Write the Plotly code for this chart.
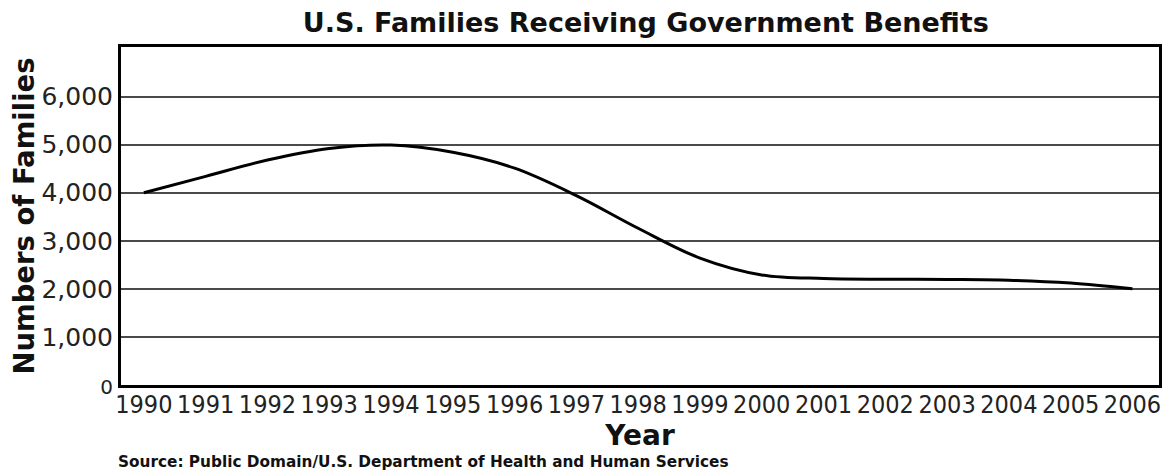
import plotly.graph_objects as go

years = [1990, 1991, 1992, 1993, 1994, 1995, 1996, 1997, 1998, 1999, 2000, 2001, 2002, 2003, 2004, 2005, 2006]
families = [4000, 4340, 4680, 4920, 4990, 4840, 4510, 3940, 3260, 2640, 2290, 2215, 2200, 2195, 2180, 2120, 2000]

y_ticks = [0, 1000, 2000, 3000, 4000, 5000, 6000]
y_labels = ['<span style="font-size:20px">0</span>', "1,000", "2,000", "3,000", "4,000", "5,000", "6,000"]
x_labels = [str(y) for y in years]

title_text = "U.S. Families Receiving Government Benefits"
source_text = "Source: Public Domain/U.S. Department of Health and Human Services"

fig = go.Figure()
fig.add_trace(go.Scatter(
    x=years, y=families, mode="lines",
    line=dict(color="black", width=3, shape="spline", smoothing=1.0),
    showlegend=False, hoverinfo="skip",
))

# page body has an 8px margin, so the figure is sized to fill the rest of the window
fig.update_layout(
    width=1166, height=462,
    margin=dict(l=109, r=14, t=39, b=85),
    paper_bgcolor="white", plot_bgcolor="white",
    title=dict(text="<b>" + title_text + "</b>", x=0.547, xanchor="center", y=0.968, yanchor="middle",
               font=dict(family="DejaVu Sans", size=27, color="#111")),
    font=dict(family="DejaVu Sans", color="#222"),
    xaxis=dict(
        range=[1989.63, 2006.43], tickvals=years, ticktext=x_labels,
        tickfont=dict(family="DejaVu Sans Condensed", size=25, color="#222"),
        ticklabelstandoff=-5,
        showgrid=False, zeroline=False, ticks="", ticklen=0,
        showline=True, linecolor="black", linewidth=3, mirror=True,
        title=dict(text="<b>Year</b>", font=dict(family="DejaVu Sans", size=28, color="#111"), standoff=0),
    ),
    yaxis=dict(
        range=[0, 7030], tickvals=y_ticks, ticktext=y_labels,
        tickfont=dict(family="DejaVu Sans", size=25, color="#222"),
        showgrid=True, gridcolor="#4a4a4a", gridwidth=2, zeroline=False, ticks="",
        showline=True, linecolor="black", linewidth=3, mirror=True,
        title=dict(text="<b>Numbers of Families</b>", font=dict(family="DejaVu Sans", size=27.5, color="#111"), standoff=2),
    ),
)

fig.add_annotation(
    text="<b>" + source_text + "</b>", xref="paper", yref="paper",
    x=-0.005, y=-0.228, xanchor="left", yanchor="middle", showarrow=False,
    font=dict(family="DejaVu Sans", size=15.3, color="#111"),
)

fig.write_html("out.html")
